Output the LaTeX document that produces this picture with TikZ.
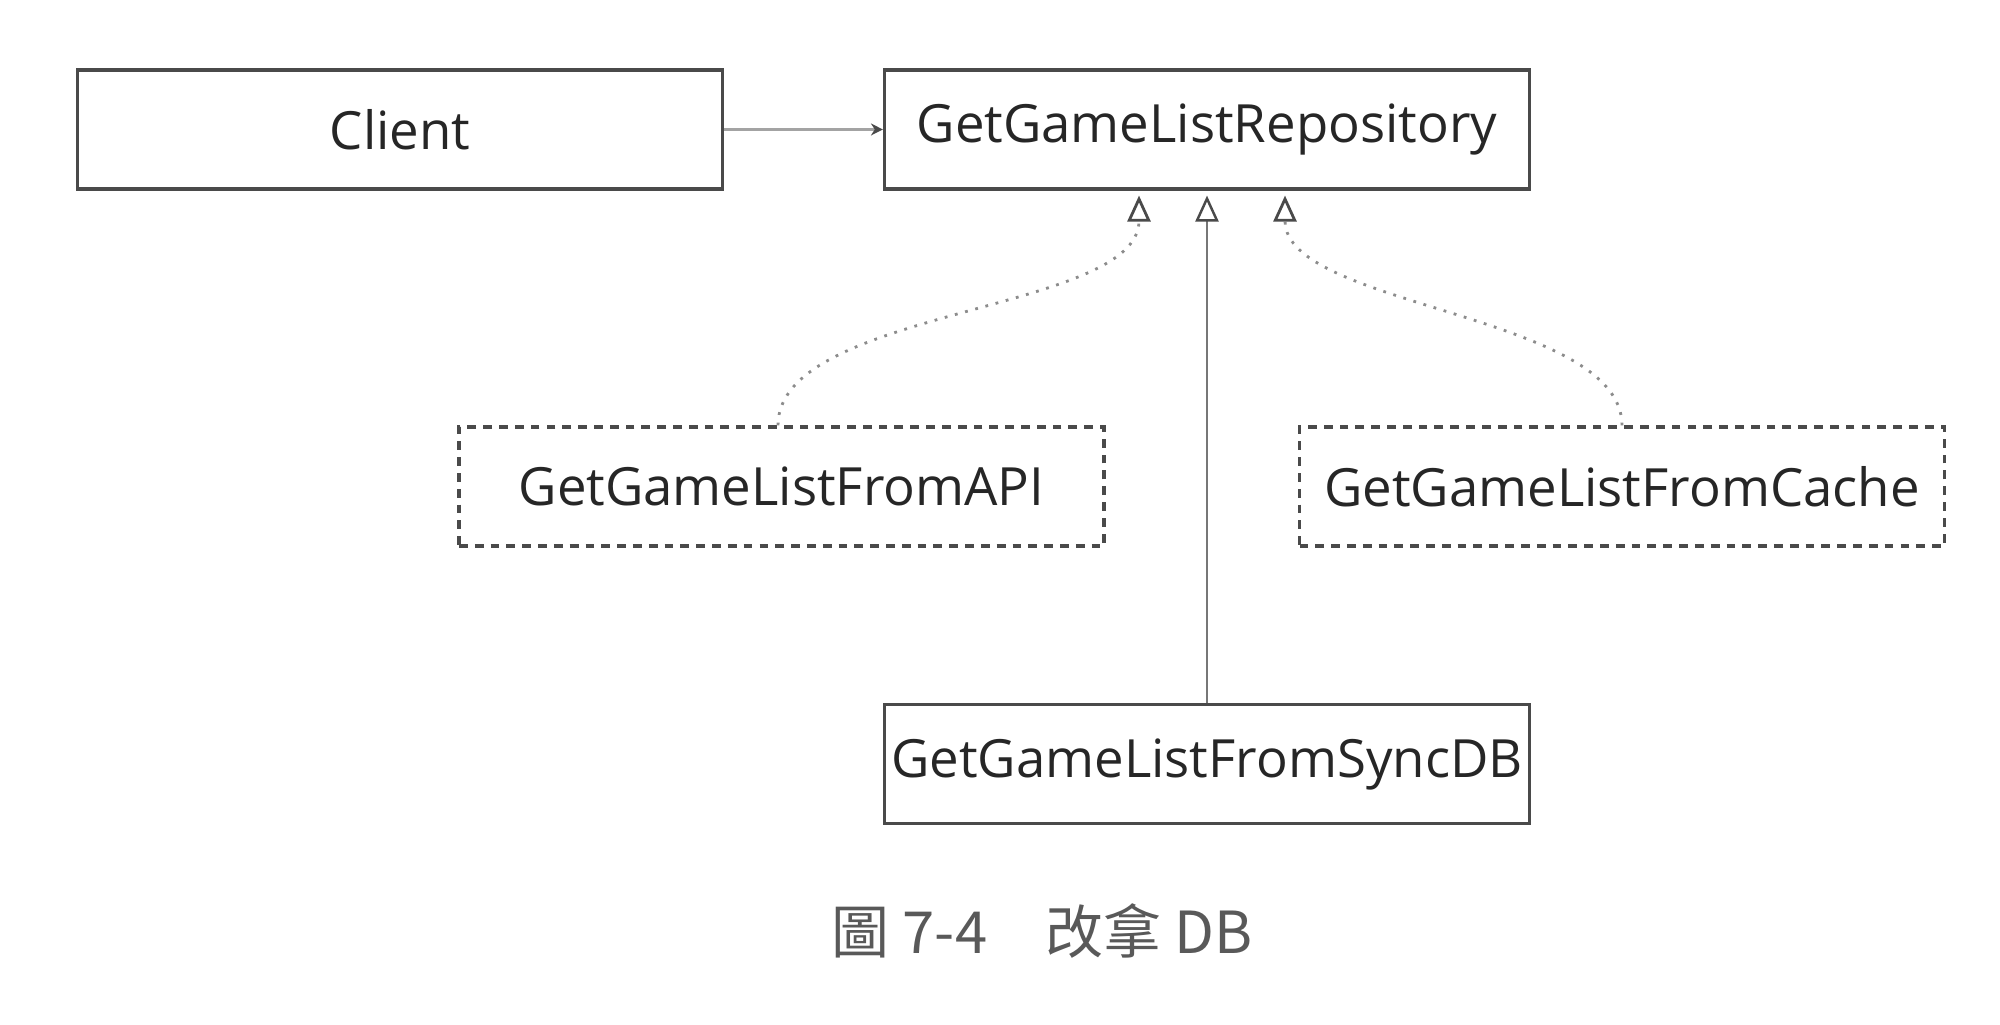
\documentclass[tikz,border=0pt]{standalone}
\usepackage{fontspec}
\setmainfont{Open Sans}
\newfontfamily\cjkfont{Noto Sans CJK TC}
\definecolor{boxline}{HTML}{4A4A4A}
\definecolor{linkgray}{HTML}{8C8C8C}
\usetikzlibrary{arrows.meta, positioning}

\begin{document}
\begin{tikzpicture}[every node/.style={font=\fontsize{15}{17}\selectfont, text=black!85}]
        \useasboundingbox (0,0) rectangle (20,10.25);
        \tikzset{classbox/.style={draw=boxline, line width=0.9pt,
                 minimum width=6.45cm, minimum height=1.19cm, inner sep=0pt},
                 implbox/.style={classbox, dash pattern=on 2.5pt off 2pt},
                 realize/.style={-{Triangle[open, length=2.6mm, width=2.3mm, color=boxline]},
                 linkgray, line width=0.8pt, dash pattern=on 0.8pt off 2.2pt, looseness=0.7}}
        \node[classbox]         (client) at (4.00, 8.955)  {Client};
        \node[classbox]         (repo)   at (12.07, 8.955) {GetGameListRepository};

        \node[implbox]          (api)    at (7.815, 5.385) {GetGameListFromAPI};
        \node[implbox]          (cache)  at (16.22, 5.385) {GetGameListFromCache};
        \node[classbox]         (syncdb) at (12.07, 2.61)  {GetGameListFromSyncDB};

        \draw[linkgray!80, line width=0.7pt, -{Stealth[length=1.2mm, width=1.2mm, color=boxline]}]
          (client) -- (repo);
        \draw[realize] (api.north -| 7.78,0) to[out=90, in=-90] ([xshift=-0.68cm, yshift=-0.05cm]repo.south);
        \draw[realize] (cache.north) to[out=90, in=-90] ([xshift=0.78cm, yshift=-0.05cm]repo.south);
        \draw[linkgray!85!black, line width=0.7pt, -{Triangle[open, length=2.6mm, width=2.3mm, color=boxline]}]
          (syncdb) -- ([yshift=-0.05cm]repo.south);

        \node[text=black!65, font=\cjkfont\fontsize{16.5}{19}\selectfont] (caption) at (10.42, 0.94)
          {圖 7-4\quad 改拿 DB};
      \end{tikzpicture}
\end{document}
